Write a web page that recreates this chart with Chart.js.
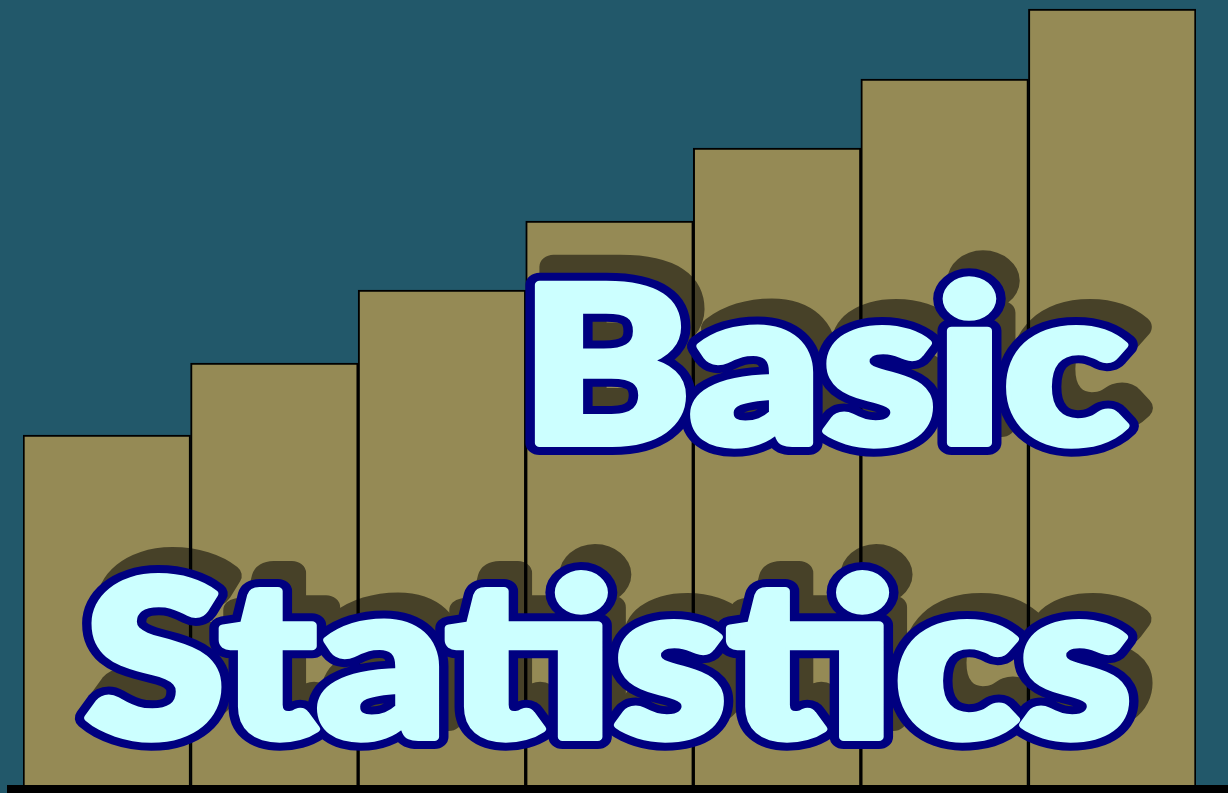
<!DOCTYPE html>
<html>
<head>
<meta charset="utf-8">
<script src="https://cdn.jsdelivr.net/npm/chart.js@4"></script>
<style>
    html, body { margin: 0; padding: 0; background: #22586a; }
    #wrap { width: 1228px; height: 793px; }
</style>
</head>
<body>
<div id="wrap"><canvas id="chart"></canvas></div>
<script>
// estimated bar heights (steps)
const categories = ['1', '2', '3', '4', '5', '6', '7'];
const values = [350, 422, 495, 564, 637, 706, 776];
const yMax = 785;
const titleLines = ['Basic', 'Statistics'];

const FONT = '900 218px Lato, "DejaVu Sans", sans-serif';

// draw one line of title stretched to a target width, letters fattened by a stroke
function drawLine(ctx, text, x, y, w, mode) {
    ctx.save();
    ctx.font = FONT;
    const natural = ctx.measureText(text).width;
    ctx.translate(x, y);
    ctx.scale(w / natural, 1);
    ctx.lineJoin = 'round';
    if (mode === 'shadow') {
        ctx.fillStyle = '#000';
        ctx.strokeStyle = '#000';
        ctx.lineWidth = 24;
        ctx.strokeText(text, 0, 0);
        ctx.fillText(text, 0, 0);
    } else {
        ctx.strokeStyle = '#000080';
        ctx.lineWidth = 24;
        ctx.strokeText(text, 0, 0);
        ctx.fillStyle = '#ccffff';
        ctx.strokeStyle = '#ccffff';
        ctx.lineWidth = 8;
        ctx.strokeText(text, 0, 0);
        ctx.fillText(text, 0, 0);
    }
    ctx.restore();
}

// baseline + title drawn on top of the bars
const decor = {
    id: 'decor',
    afterDatasetsDraw(chart) {
        const ctx = chart.ctx;
        const area = chart.chartArea;
        ctx.save();
        ctx.fillStyle = '#000';
        ctx.fillRect(7, area.bottom, chart.width - 7, 8);
        ctx.restore();

        const lines = [
            { text: titleLines[0], x: 520, y: 443, w: 608 },
            { text: titleLines[1], x: 84, y: 737, w: 1048 }
        ];

        // shadow on its own layer so overlaps stay one tone
        const sh = document.createElement('canvas');
        sh.width = chart.width;
        sh.height = chart.height;
        const sctx = sh.getContext('2d');
        lines.forEach(l => drawLine(sctx, l.text, l.x + 14, l.y - 18, l.w, 'shadow'));
        ctx.save();
        ctx.globalAlpha = 0.52;
        ctx.drawImage(sh, 0, 0, chart.width, chart.height);
        ctx.restore();

        lines.forEach(l => drawLine(ctx, l.text, l.x, l.y, l.w, 'text'));
    }
};

new Chart(document.getElementById('chart'), {
    type: 'bar',
    data: {
        labels: categories,
        datasets: [{
            data: values,
            backgroundColor: '#958a55',
            borderColor: '#000',
            borderWidth: 2,
            borderSkipped: 'bottom',
            barPercentage: 1,
            categoryPercentage: 1
        }]
    },
    options: {
        responsive: true,
        maintainAspectRatio: false,
        animation: false,
        layout: { padding: { left: 23, right: 32, top: 0, bottom: 8 } },
        plugins: {
            legend: { display: false },
            tooltip: { enabled: false }
        },
        scales: {
            x: { display: false },
            y: { display: false, min: 0, max: yMax }
        }
    },
    plugins: [decor]
});
</script>
</body>
</html>
